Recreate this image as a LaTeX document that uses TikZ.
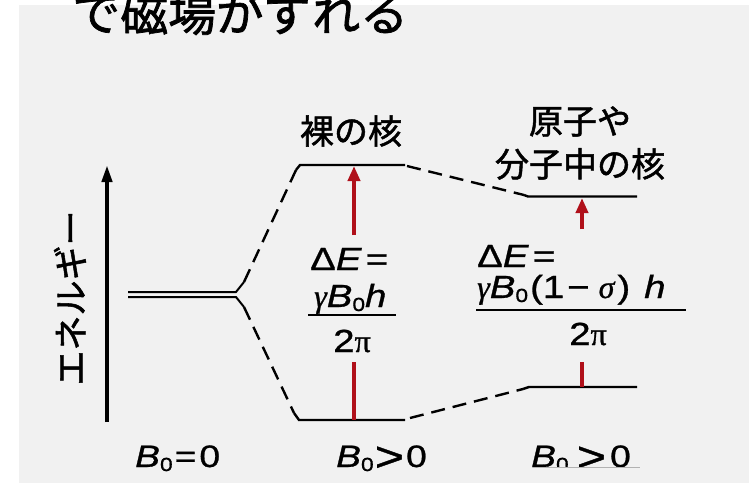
\documentclass[tikz,border=0pt]{standalone}
\usepackage{fontspec}
\usepackage{graphicx}
\setmainfont{Liberation Sans}[FakeBold=0.9, FakeStretch=1.2]
\newfontfamily\cjk{Noto Sans CJK JP}[FakeBold=1.5]
\newfontfamily\serifgr{Liberation Serif}[FakeBold=0.9]
\usetikzlibrary{arrows.meta,calc}
\definecolor{bggray}{HTML}{F1F1F1}
\definecolor{darkred}{HTML}{B0101A}
\newcommand\bigrel[1]{\raisebox{-4pt}{\fontsize{42}{42}\selectfont #1}}
\newcommand\subz[1]{\raisebox{-4pt}{\fontsize{19}{19}\selectfont #1}}
\begin{document}
\begin{tikzpicture}[x=1pt,y=-1pt,
  level/.style={line width=2.4pt, black},
  link/.style={line width=2.4pt, dash pattern=on 14pt off 8pt},
  redarr/.style={line width=4pt, darkred, -{Triangle[width=12pt,length=15pt]}},
  redbar/.style={line width=4pt, darkred},
  jtext/.style={font=\cjk\fontsize{34}{43}\selectfont, align=center, inner sep=0pt},
  ftext/.style={font=\fontsize{32}{36}\selectfont, inner sep=0pt},
  btext/.style={font=\fontsize{31}{32}\selectfont, inner sep=0pt, anchor=base west},
  fracline/.style={line width=1.6pt, black}
]
\useasboundingbox (0,0) rectangle (749,483);
\fill[bggray] (19,5) rectangle (749,483);

% title
\node[font=\cjk\fontsize{48}{50}\selectfont, anchor=base west, inner sep=0pt] (title) at (72,31) {で磁場がずれる};

% energy axis
\coordinate (axb) at (107,422);
\coordinate (axt) at (107,165);
\draw[line width=4pt, -{Triangle[width=10pt,length=17pt]}] (axb) -- (axt);
\node[jtext, font=\cjk\fontsize{35}{36}\selectfont, rotate=90] (elabel) at (70,298) {エネルギー};

% level coordinates
\coordinate (d1a) at (128,292);
\coordinate (d1b) at (236,292);
\coordinate (d2a) at (128,297);
\coordinate (d2b) at (236,297);
\coordinate (fu) at (244,282);
\coordinate (fl) at (244,307);
\coordinate (u1c) at (296,170);
\coordinate (u1a) at (300,165);
\coordinate (u1b) at (405,165);
\coordinate (l1c) at (294,413);
\coordinate (l1a) at (299,420);
\coordinate (l1b) at (405,420);
\coordinate (u2c) at (524,195);
\coordinate (u2a) at (528,196.5);
\coordinate (u2b) at (637,196.5);
\coordinate (l2c) at (523,389);
\coordinate (l2a) at (529,387);
\coordinate (l2b) at (637,387);

% degenerate level with fork
\draw[line width=2pt] (d1a) -- (d1b) -- (fu);
\draw[line width=2pt] (d2a) -- (d2b) -- (fl);
% split levels
\draw[link] (fu) -- (u1c);
\draw[level] (u1c) -- (u1a) -- (u1b);
\draw[link] (fl) -- (l1c);
\draw[level] (l1c) -- (l1a) -- (l1b);
\draw[link] ($(u1b)+(2,1)$) -- (u2c);
\draw[level] (u2c) -- (u2a) -- (u2b);
\draw[link] ($(l1b)+(5,-2)$) -- (l2c);
\draw[level] (l2c) -- (l2a) -- (l2b);

% red transitions
\coordinate (r1s) at (354,235);
\coordinate (r1t) at (354,166);
\coordinate (r1bs) at (354,362);
\coordinate (r1bt) at (354,420);
\draw[redarr] (r1s) -- (r1t);
\draw[redbar] (r1bs) -- (r1bt);
\coordinate (r2s) at (582,229);
\coordinate (r2t) at (582,198);
\coordinate (r2bs) at (582,362);
\coordinate (r2bt) at (582,387);
\draw[redarr] (r2s) -- (r2t);
\draw[redbar] (r2bs) -- (r2bt);

% Japanese labels
\node[jtext] (bare) at (351,131) {裸の核};
\node[jtext] (mol) at (580,143) {原子や\\分子中の核};

% middle formula
\node[ftext, anchor=base west] (dE1) at (310,270) {Δ\textit{E}\hspace{4pt}=};
\node[ftext, anchor=base west] (num1) at (314,307) {{\serifgr\itshape γ}\textit{B}\subz{0}\textit{h}};
\coordinate (f1a) at (308,315);
\coordinate (f1b) at (396,315);
\draw[fracline] (f1a) -- (f1b);
\node[ftext, anchor=base] (den1) at (352,352) {2{\serifgr π}};

% right formula
\node[ftext, anchor=base west] (dE2) at (477,267) {Δ\textit{E}\hspace{4pt}=};
\node[ftext, anchor=base west] (num2) at (477,298) {{\serifgr\itshape γ}\textit{B}\subz{0}\hspace{2pt}(1\hspace{3pt}−\hspace{9pt}{\serifgr\itshape σ}\hspace{3pt})\hspace{14pt}\textit{h}};
\coordinate (f2a) at (476,310);
\coordinate (f2b) at (686,310);
\draw[fracline] (f2a) -- (f2b);
\node[ftext, anchor=base] (den2) at (588,345) {2{\serifgr π}};

% bottom labels
\node[btext] (b1) at (135,467) {\textit{B}\subz{0}\hspace{2pt}=\hspace{3pt}0};
\begin{scope}
  \clip (320,430) rectangle (450,473);
  \node[btext] (b2) at (336,467) {\textit{B}\subz{0}\hspace{1pt}\bigrel{>}\hspace{2pt}0};
\end{scope}
\begin{scope}
  \clip (520,430) rectangle (650,467);
  \node[btext] (b3) at (531,467) {\textit{B}\subz{0}\hspace{8pt}\bigrel{>}\hspace{4pt}0};
\end{scope}
\coordinate (ula) at (533,467.5);
\coordinate (ulb) at (640,467.5);
\draw[gray!60, line width=0.6pt] (ula) -- (ulb);
\end{tikzpicture}
\end{document}
